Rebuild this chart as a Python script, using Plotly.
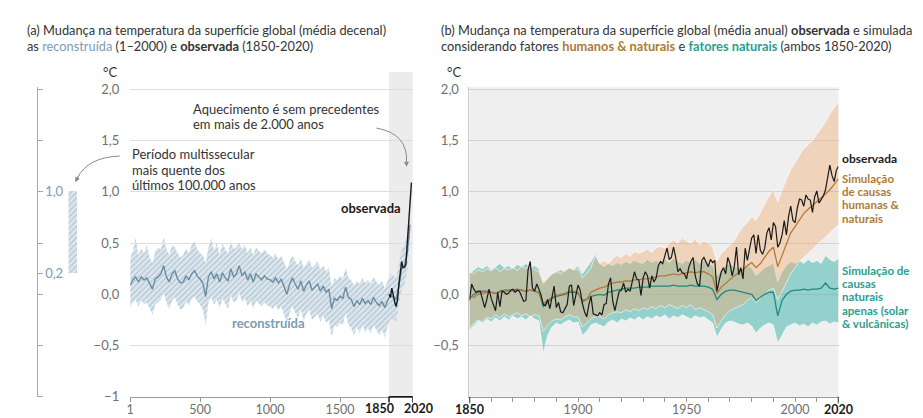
import plotly.graph_objects as go

W, H = 923, 418

# ---------------- DATA ----------------
# (a) reconstruction, decadal-ish, sampled every 20 years
rec_years = [1] + list(range(20, 2001, 20))
rec_mid = [0.09, 0.14, 0.17, 0.12, 0.17, 0.14, 0.16, 0.10, 0.05, 0.15, 0.17,
           0.20, 0.28, 0.17, 0.12, 0.20, 0.23, 0.15, 0.11, 0.12, 0.18,
           0.14, 0.20, 0.23, 0.18, 0.15, 0.11, -0.02, 0.17, 0.22, 0.15,
           0.20, 0.12, 0.21, 0.16, 0.13, 0.25, 0.17, 0.20, 0.28, 0.18,
           0.22, 0.14, 0.20, 0.12, 0.20, 0.17, 0.14, 0.18, 0.15, 0.14,
           0.12, 0.16, 0.11, 0.15, 0.08, 0.00, 0.10, 0.16, 0.10, 0.05,
           0.13, 0.03, 0.09, 0.13, 0.04, 0.07, 0.10, 0.03, 0.08, 0.02,
           0.05, -0.14, -0.04, -0.06, -0.02, -0.04, 0.07, -0.03, -0.05, -0.12,
           -0.06, -0.10, -0.04, -0.09, -0.06, -0.10, -0.03, -0.08, -0.11, -0.07,
           -0.13, -0.06, -0.01, -0.03, -0.05, 0.08, 0.25, 0.28, 0.40, 0.68]
rec_hi = [0.35, 0.42, 0.55, 0.38, 0.45, 0.40, 0.48, 0.36, 0.30, 0.42, 0.46,
          0.44, 0.56, 0.44, 0.38, 0.48, 0.46, 0.40, 0.36, 0.38, 0.45,
          0.40, 0.48, 0.52, 0.44, 0.40, 0.38, 0.30, 0.46, 0.55, 0.42,
          0.50, 0.38, 0.50, 0.44, 0.40, 0.52, 0.44, 0.46, 0.50, 0.44,
          0.48, 0.40, 0.46, 0.38, 0.46, 0.42, 0.40, 0.44, 0.40, 0.38,
          0.36, 0.40, 0.34, 0.38, 0.30, 0.24, 0.32, 0.38, 0.32, 0.28,
          0.35, 0.26, 0.30, 0.34, 0.26, 0.28, 0.32, 0.24, 0.28, 0.22,
          0.26, 0.08, 0.16, 0.14, 0.18, 0.15, 0.26, 0.16, 0.14, 0.08,
          0.13, 0.10, 0.16, 0.11, 0.14, 0.10, 0.17, 0.12, 0.09, 0.13,
          0.06, 0.14, 0.20, 0.18, 0.16, 0.28, 0.45, 0.48, 0.58, 0.82]
rec_lo = [-0.12, -0.08, -0.05, -0.12, -0.06, -0.10, -0.08, -0.14, -0.20, -0.10, -0.08,
          -0.05, 0.02, -0.08, -0.14, -0.06, -0.03, -0.10, -0.15, -0.13, -0.07,
          -0.11, -0.05, -0.02, -0.07, -0.10, -0.15, -0.30, -0.08, -0.03, -0.10,
          -0.05, -0.13, -0.04, -0.09, -0.14, -0.01, -0.08, -0.06, 0.02, -0.08,
          -0.04, -0.12, -0.06, -0.14, -0.06, -0.09, -0.12, -0.08, -0.11, -0.12,
          -0.14, -0.10, -0.16, -0.12, -0.20, -0.28, -0.18, -0.12, -0.18, -0.23,
          -0.15, -0.26, -0.19, -0.15, -0.25, -0.22, -0.19, -0.27, -0.21, -0.28,
          -0.25, -0.42, -0.30, -0.32, -0.28, -0.30, -0.18, -0.30, -0.33, -0.40,
          -0.32, -0.38, -0.30, -0.37, -0.33, -0.38, -0.30, -0.35, -0.40, -0.35,
          -0.42, -0.32, -0.24, -0.25, -0.26, -0.12, 0.05, 0.10, 0.22, 0.52]

# (a) observed, decadal
obs_dec_years = list(range(1850, 2021, 10))
obs_dec = [0.00, -0.03, 0.06, -0.02, -0.07, -0.12, -0.06, 0.09, 0.23, 0.32,
           0.26, 0.26, 0.29, 0.51, 0.66, 0.88, 1.09]

# multi-century warm period range (bar)
warm_low, warm_high = 0.2, 1.0

# (b) observed, annual
obs_years = list(range(1850, 2021))
obs = [-0.06, 0.10, 0.05, 0.02, 0.03, 0.03, -0.05, -0.13, -0.05, 0.05,
       -0.04, -0.10, -0.16, 0.02, -0.12, 0.03, 0.02, 0.00, 0.01, 0.04,
       0.05, 0.02, 0.04, 0.03, -0.03, -0.07, -0.06, 0.24, 0.32, 0.06,
       0.03, 0.10, 0.05, -0.01, -0.10, -0.11, -0.05, -0.14, -0.03, 0.08,
       -0.13, -0.08, -0.17, -0.18, -0.14, -0.10, 0.08, 0.09, -0.11, 0.00,
       0.09, 0.04, -0.09, -0.17, -0.22, -0.10, -0.02, -0.19, -0.20, -0.21,
       -0.18, -0.20, -0.10, -0.09, 0.10, 0.16, -0.07, -0.16, -0.06, 0.03,
       0.04, 0.11, 0.02, 0.05, 0.03, 0.13, 0.22, 0.15, 0.14, -0.01,
       0.16, 0.22, 0.18, 0.06, 0.18, 0.12, 0.16, 0.28, 0.32, 0.30,
       0.37, 0.45, 0.34, 0.36, 0.46, 0.36, 0.22, 0.25, 0.21, 0.20,
       0.15, 0.26, 0.32, 0.36, 0.18, 0.10, 0.08, 0.33, 0.36, 0.32,
       0.27, 0.34, 0.31, 0.33, 0.03, 0.13, 0.22, 0.26, 0.20, 0.36,
       0.30, 0.18, 0.27, 0.46, 0.19, 0.26, 0.15, 0.45, 0.33, 0.44,
       0.55, 0.58, 0.40, 0.58, 0.43, 0.39, 0.45, 0.60, 0.65, 0.53,
       0.70, 0.66, 0.46, 0.50, 0.58, 0.72, 0.58, 0.76, 0.86, 0.72,
       0.70, 0.84, 0.93, 0.92, 0.86, 0.97, 0.93, 0.92, 0.80, 0.95,
       1.01, 0.89, 0.93, 0.96, 1.02, 1.14, 1.26, 1.16, 1.10, 1.21,
       1.25]

# (b) simulations, every 2 years
sim_years = list(range(1850, 2021, 2))
hn_mid = [-0.02, -0.03, 0.00, 0.01, 0.02, 0.02, 0.01, 0.02, 0.03, 0.03,
          0.03, 0.04, 0.04, 0.03, 0.04, 0.03, 0.02, -0.09, -0.06, -0.03,
          -0.01, 0.00, 0.01, 0.03, 0.03, 0.02, -0.08, -0.05, 0.02, 0.04,
          0.06, 0.07, 0.09, 0.11, 0.12, 0.12, 0.13, 0.13, 0.14, 0.14,
          0.15, 0.15, 0.16, 0.17, 0.18, 0.18, 0.19, 0.20, 0.19, 0.20,
          0.21, 0.22, 0.21, 0.22, 0.22, 0.20, 0.17, 0.01, 0.07, 0.11,
          0.15, 0.18, 0.21, 0.24, 0.28, 0.31, 0.26, 0.30, 0.36, 0.42,
          0.46, 0.27, 0.38, 0.50, 0.60, 0.66, 0.73, 0.79, 0.83, 0.87,
          0.91, 0.94, 0.98, 1.02, 1.07, 1.13]
hn_hi = [0.22, 0.20, 0.24, 0.22, 0.25, 0.23, 0.26, 0.22, 0.25, 0.24,
         0.26, 0.23, 0.27, 0.25, 0.28, 0.24, 0.22, 0.12, 0.16, 0.20,
         0.22, 0.20, 0.24, 0.26, 0.24, 0.25, 0.16, 0.20, 0.26, 0.38,
         0.30, 0.33, 0.30, 0.35, 0.38, 0.36, 0.40, 0.37, 0.42, 0.40,
         0.42, 0.44, 0.41, 0.45, 0.47, 0.45, 0.50, 0.53, 0.50, 0.55,
         0.52, 0.50, 0.54, 0.48, 0.52, 0.50, 0.46, 0.32, 0.40, 0.44,
         0.48, 0.52, 0.60, 0.66, 0.70, 0.76, 0.72, 0.80, 0.88, 0.96,
         1.02, 0.90, 1.02, 1.12, 1.22, 1.28, 1.36, 1.42, 1.46, 1.50,
         1.56, 1.62, 1.68, 1.76, 1.82, 1.88]
hn_lo = [-0.33, -0.28, -0.25, -0.27, -0.22, -0.24, -0.20, -0.23, -0.19, -0.22,
         -0.20, -0.18, -0.21, -0.19, -0.22, -0.20, -0.21, -0.36, -0.30, -0.26,
         -0.24, -0.25, -0.22, -0.20, -0.22, -0.22, -0.32, -0.28, -0.24, -0.22,
         -0.22, -0.24, -0.20, -0.18, -0.17, -0.18, -0.15, -0.17, -0.14, -0.16,
         -0.13, -0.15, -0.12, -0.14, -0.11, -0.13, -0.10, -0.12, -0.14, -0.11,
         -0.13, -0.10, -0.15, -0.13, -0.15, -0.17, -0.20, -0.33, -0.26, -0.20,
         -0.16, -0.14, -0.12, -0.10, -0.06, -0.03, -0.08, -0.04, 0.00, 0.04,
         0.06, -0.05, 0.03, 0.12, 0.20, 0.26, 0.32, 0.36, 0.40, 0.44,
         0.48, 0.52, 0.56, 0.60, 0.64, 0.68]
nat_mid = [-0.04, 0.00, 0.02, 0.03, 0.03, 0.02, 0.01, 0.03, 0.04, 0.04,
           0.04, 0.05, 0.04, 0.03, 0.04, 0.03, 0.02, -0.12, -0.08, -0.04,
           -0.02, -0.01, 0.00, 0.02, 0.02, 0.01, -0.06, -0.05, -0.02, -0.01,
           0.00, -0.01, 0.02, 0.03, 0.04, 0.05, 0.06, 0.06, 0.06, 0.07,
           0.07, 0.07, 0.08, 0.08, 0.08, 0.08, 0.08, 0.09, 0.08, 0.08,
           0.08, 0.09, 0.08, 0.08, 0.08, 0.07, 0.05, -0.05, 0.00, 0.03,
           0.04, 0.04, 0.03, 0.02, 0.01, 0.00, -0.06, -0.03, 0.00, 0.02,
           0.02, -0.21, -0.06, 0.00, 0.03, 0.04, 0.04, 0.05, 0.04, 0.05,
           0.05, 0.06, 0.11, 0.06, 0.05, 0.06]
nat_hi = [0.20, 0.24, 0.27, 0.25, 0.28, 0.24, 0.27, 0.30, 0.26, 0.28,
          0.25, 0.29, 0.27, 0.30, 0.26, 0.28, 0.25, 0.10, 0.15, 0.20,
          0.22, 0.24, 0.22, 0.26, 0.24, 0.28, 0.20, 0.26, 0.32, 0.40,
          0.30, 0.27, 0.30, 0.28, 0.31, 0.29, 0.32, 0.30, 0.33, 0.31,
          0.30, 0.34, 0.31, 0.33, 0.30, 0.34, 0.31, 0.35, 0.32, 0.30,
          0.33, 0.31, 0.34, 0.30, 0.33, 0.30, 0.28, 0.18, 0.24, 0.28,
          0.30, 0.27, 0.26, 0.25, 0.28, 0.26, 0.18, 0.22, 0.26, 0.28,
          0.30, 0.12, 0.22, 0.28, 0.32, 0.30, 0.33, 0.30, 0.34, 0.31,
          0.33, 0.30, 0.38, 0.34, 0.32, 0.35]
nat_lo = [-0.35, -0.30, -0.26, -0.28, -0.24, -0.27, -0.23, -0.26, -0.22, -0.25,
          -0.21, -0.24, -0.22, -0.25, -0.21, -0.24, -0.26, -0.58, -0.40, -0.32,
          -0.28, -0.30, -0.27, -0.25, -0.28, -0.27, -0.40, -0.36, -0.30, -0.28,
          -0.30, -0.32, -0.27, -0.25, -0.28, -0.24, -0.26, -0.23, -0.25, -0.22,
          -0.25, -0.22, -0.24, -0.21, -0.23, -0.20, -0.24, -0.21, -0.23, -0.20,
          -0.22, -0.24, -0.21, -0.23, -0.22, -0.25, -0.28, -0.42, -0.34, -0.28,
          -0.26, -0.27, -0.29, -0.30, -0.28, -0.31, -0.38, -0.33, -0.30, -0.28,
          -0.30, -0.48, -0.40, -0.32, -0.30, -0.28, -0.31, -0.29, -0.32, -0.28,
          -0.30, -0.27, -0.26, -0.29, -0.27, -0.28]

yticks_a = [-1, -0.5, 0, 0.5, 1, 1.5, 2]
yticks_a_text = ["\u22121", "\u22120,5", "0,0", "0,5", "1,0", "1,5", "2,0"]
yticks_b = [-0.5, 0, 0.5, 1, 1.5, 2]
yticks_b_text = ["\u22120,5", "0,0", "0,5", "1,0", "1,5", "2,0"]
xticks_a = [1, 500, 1000, 1500]
xticks_a_text = ["1", "500", "1000", "1500"]
xmarks_a = [1850, 2020]
xticks_b = list(range(1850, 2021, 10))
xticks_b_labels = {1850: "<b><span style='color:#1a1a1a'>1850</span></b>",
                   1900: "1900", 1950: "1950", 2000: "2000",
                   2020: "<b><span style='color:#1a1a1a'>2020</span></b>"}
mini_ticks = [-1, -0.5, 0, 0.2, 0.5, 1, 1.5, 2]
mini_text = ["", "", "", "0,2", "", "1,0", "", ""]

# ---------------- STYLE ----------------
FONT = "Lato"
C_REC = "#6a8ca1"
C_REC_TXT = "#7a9db4"
C_OBS = "#1a1a1a"
C_HN = "#b27a38"
C_HN_TXT = "#b07a35"
C_NAT = "#23897b"
C_NAT_TXT = "#2b9d90"
C_GRID = "#dedede"
C_TICK = "#707070"
HATCH = dict(shape="/", fgcolor="#93b0c3", bgcolor="#dfe8ee", size=4, solidity=0.45)

Y_BOT, Y_TOP = 396, 75.9
ydom = [1 - Y_BOT / H, 1 - Y_TOP / H]
YR = [-1, 2.02]

fig = go.Figure()

# reconstruction band (hatched)
fig.add_trace(go.Scatter(x=rec_years, y=rec_lo, mode="lines", line=dict(width=0, color="rgba(0,0,0,0)"),
                         xaxis="x", yaxis="y", hoverinfo="skip", showlegend=False))
fig.add_trace(go.Scatter(x=rec_years, y=rec_hi, mode="lines", line=dict(width=0, color="rgba(0,0,0,0)"),
                         fill="tonexty", fillcolor="#dfe8ee", fillpattern=HATCH,
                         xaxis="x", yaxis="y", hoverinfo="skip", showlegend=False))
fig.add_trace(go.Scatter(x=rec_years, y=rec_mid, mode="lines", line=dict(width=1.4, color=C_REC),
                         xaxis="x", yaxis="y", showlegend=False))
fig.add_trace(go.Scatter(x=obs_dec_years, y=obs_dec, mode="lines", line=dict(width=1.4, color=C_OBS),
                         xaxis="x", yaxis="y", showlegend=False))

# mini bar
fig.add_trace(go.Bar(x=[0], y=[warm_high - warm_low], base=[warm_low], width=[1],
                     marker=dict(color="#dfe8ee", line=dict(width=0), pattern=HATCH),
                     xaxis="x3", yaxis="y3", showlegend=False, hoverinfo="skip"))

# (b) natural band
edge = dict(width=0.8, color="rgba(255,255,255,0.75)")
fig.add_trace(go.Scatter(x=sim_years, y=nat_lo, mode="lines", line=edge,
                         xaxis="x2", yaxis="y2", hoverinfo="skip", showlegend=False))
fig.add_trace(go.Scatter(x=sim_years, y=nat_hi, mode="lines", line=edge, fill="tonexty",
                         fillcolor="rgba(60,180,170,0.5)",
                         xaxis="x2", yaxis="y2", hoverinfo="skip", showlegend=False))
# human+natural band
fig.add_trace(go.Scatter(x=sim_years, y=hn_lo, mode="lines", line=edge,
                         xaxis="x2", yaxis="y2", hoverinfo="skip", showlegend=False))
fig.add_trace(go.Scatter(x=sim_years, y=hn_hi, mode="lines", line=edge, fill="tonexty",
                         fillcolor="rgba(242,170,110,0.4)",
                         xaxis="x2", yaxis="y2", hoverinfo="skip", showlegend=False))
fig.add_trace(go.Scatter(x=sim_years, y=nat_mid, mode="lines", line=dict(width=1.3, color=C_NAT),
                         xaxis="x2", yaxis="y2", showlegend=False))
fig.add_trace(go.Scatter(x=sim_years, y=hn_mid, mode="lines", line=dict(width=1.3, color=C_HN),
                         xaxis="x2", yaxis="y2", showlegend=False))
fig.add_trace(go.Scatter(x=obs_years, y=obs, mode="lines", line=dict(width=1.2, color=C_OBS),
                         xaxis="x2", yaxis="y2", showlegend=False))

tickfont = dict(family=FONT, size=12.5, color=C_TICK)

fig.update_layout(
    width=W, height=H, margin=dict(l=0, r=0, t=0, b=0),
    paper_bgcolor="white", plot_bgcolor="rgba(0,0,0,0)",
    font=dict(family=FONT, size=13, color="#333"),
    showlegend=False,
    xaxis=dict(domain=[111.7 / W, 403.5 / W], range=[1, 2020], anchor="y",
               tickvals=xticks_a, ticktext=xticks_a_text, tickfont=tickfont, tickangle=0,
               ticks="outside", ticklen=4, tickcolor="#9a9a9a", ticklabelstandoff=-3,
               showline=True, linecolor="#9a9a9a", linewidth=1, showgrid=False, zeroline=False),
    yaxis=dict(domain=ydom, range=YR, anchor="x",
               tickvals=yticks_a, ticktext=yticks_a_text, tickfont=dict(family=FONT, size=13, color=C_TICK),
               ticks="", ticklabelstandoff=10,
               showgrid=True, gridcolor=C_GRID, gridwidth=1.3, showline=False, zeroline=False),
    xaxis2=dict(domain=[462 / W, 843 / W], range=[1850, 2020], anchor="y2",
                tickvals=xticks_b, ticktext=[xticks_b_labels.get(v, "") for v in xticks_b],
                tickfont=tickfont, tickangle=0, ticks="outside", ticklen=4, tickcolor="#9a9a9a",
                ticklabelstandoff=-3,
                showline=True, linecolor="#9a9a9a", linewidth=1, showgrid=False, zeroline=False),
    yaxis2=dict(domain=ydom, range=YR, anchor="x2",
                tickvals=yticks_b, ticktext=yticks_b_text, tickfont=dict(family=FONT, size=13, color=C_TICK),
                ticks="", ticklabelstandoff=7,
                showgrid=True, gridcolor="#d2d2d2", gridwidth=1, showline=True, linecolor="#c8c8c8",
                zeroline=False),
    xaxis3=dict(domain=[48 / W, 57 / W], range=[-0.5, 0.5], anchor="y3", visible=False),
    yaxis3=dict(domain=ydom, range=YR, anchor="free", position=15 / W, side="right",
                tickvals=mini_ticks, ticktext=mini_text,
                tickfont=dict(family=FONT, size=13, color=C_REC_TXT),
                ticks="outside", ticklen=5, tickcolor="#a8a8a8",
                showline=True, linecolor="#a8a8a8", linewidth=1, showgrid=False, zeroline=False),
    bargap=0,
)


def px(x):
    return x / W


def py(y):
    return 1 - y / H


shapes = []
# gray background for panel b
shapes.append(dict(type="rect", xref="x2 domain", yref="y2 domain", x0=0, x1=1, y0=0, y1=1,
                   fillcolor="#efefef", line=dict(width=0), layer="below"))
# gray band 1850-2020 in panel a
shapes.append(dict(type="rect", xref="x", yref="paper", x0=1850, x1=2020, y0=py(Y_BOT), y1=py(60),
                   fillcolor="#ececec", line=dict(width=0), layer="below"))
# black bracket for 1850-2020 (panel a)
for xv in xmarks_a:
    shapes.append(dict(type="line", xref="x", yref="paper", x0=xv, x1=xv,
                       y0=py(Y_BOT), y1=py(Y_BOT + 6), line=dict(color="#1a1a1a", width=1.5)))
shapes.append(dict(type="line", xref="x", yref="paper", x0=xmarks_a[0], x1=xmarks_a[1],
                   y0=py(Y_BOT), y1=py(Y_BOT), line=dict(color="#1a1a1a", width=1.5)))
# black major ticks for panel b
for xv in (1850, 2020):
    shapes.append(dict(type="line", xref="x2", yref="paper", x0=xv, x1=xv,
                       y0=py(Y_BOT), y1=py(Y_BOT + 7), line=dict(color="#1a1a1a", width=1.5)))

# curved arrows
shapes.append(dict(type="path", xref="paper", yref="paper",
                   path=f"M {px(366)},{py(118)} Q {px(399)},{py(124)} {px(397)},{py(154)}",
                   line=dict(color="#8a8a8a", width=1)))
shapes.append(dict(type="path", xref="paper", yref="paper",
                   path=f"M {px(101)},{py(147)} Q {px(68)},{py(148)} {px(57)},{py(170)}",
                   line=dict(color="#8a8a8a", width=1)))
fig.update_layout(shapes=shapes)

ann = []
ann.append(dict(x=px(397), y=py(158), xref="paper", yref="paper", text="", showarrow=True,
                ax=0, ay=-8, arrowhead=2, arrowsize=1, arrowwidth=1, arrowcolor="#8a8a8a"))
ann.append(dict(x=px(55), y=py(174), xref="paper", yref="paper", text="", showarrow=True,
                ax=4, ay=-8, arrowhead=2, arrowsize=1, arrowwidth=1, arrowcolor="#8a8a8a"))


def line_text(x, y, text, size=13, color="#333", anchor="left"):
    ann.append(dict(x=px(x), y=py(y), xref="paper", yref="paper", xanchor=anchor, yanchor="middle",
                    showarrow=False, text=text, borderpad=0,
                    font=dict(family=FONT, size=size, color=color)))


# titles
line_text(4, 16.5, "(a) Mudança na temperatura da superfície global (média decenal)", size=12.8)
line_text(4, 33, f"as <span style='color:{C_REC_TXT}'>reconstruída</span> (1\u20132000) e <b>observada</b> (1850-2020)",
          size=12.8)
line_text(432, 16.5, "(b) Mudança na temperatura da superfície global (média anual) <b>observada</b> e simulada",
          size=12.8)
line_text(432, 33, f"considerando fatores <b><span style='color:{C_HN_TXT}'>humanos &amp; naturais</span></b> e "
                   f"<b><span style='color:{C_NAT_TXT}'>fatores naturais</span></b> (ambos 1850-2020)", size=12.8)
# degree labels
line_text(91, 60, "°C", anchor="center")
line_text(446, 60, "°C", anchor="center")
# panel a notes
line_text(175, 98.5, "Aquecimento é sem precedentes")
line_text(175, 114, "em mais de 2.000 anos")
line_text(113, 145, "Período multissecular")
line_text(113, 161, "mais quente dos")
line_text(113, 177, "últimos 100.000 anos")
line_text(392, 201, "<b>observada</b>", color=C_OBS, anchor="right")
line_text(254, 320, "<b>reconstruída</b>", color=C_REC_TXT, anchor="center")
# panel a bold axis marks
for xv in xmarks_a:
    ann.append(dict(x=xv, xref="x", y=py(408), yref="paper", showarrow=False, xanchor="center",
                    yanchor="middle", text=f"<b>{xv}</b>", borderpad=0,
                    xshift=-10 if xv == xmarks_a[0] else 6,
                    font=dict(family=FONT, size=12.5, color=C_OBS)))
# panel b labels
line_text(846, 150, "<b>observada</b>", size=12, color=C_OBS)
for i, t in enumerate(["Simulação", "de causas", "humanas &amp;", "naturais"]):
    line_text(846, 170 + 13.8 * i, f"<b>{t}</b>", size=11.5, color=C_HN_TXT)
for i, t in enumerate(["Simulação de", "causas", "naturais", "apenas (solar", "&amp; vulcânicas)"]):
    line_text(846, 265 + 13.8 * i, f"<b>{t}</b>", size=11.5, color=C_NAT_TXT)
fig.update_layout(annotations=ann)

fig.write_html("out.html")
